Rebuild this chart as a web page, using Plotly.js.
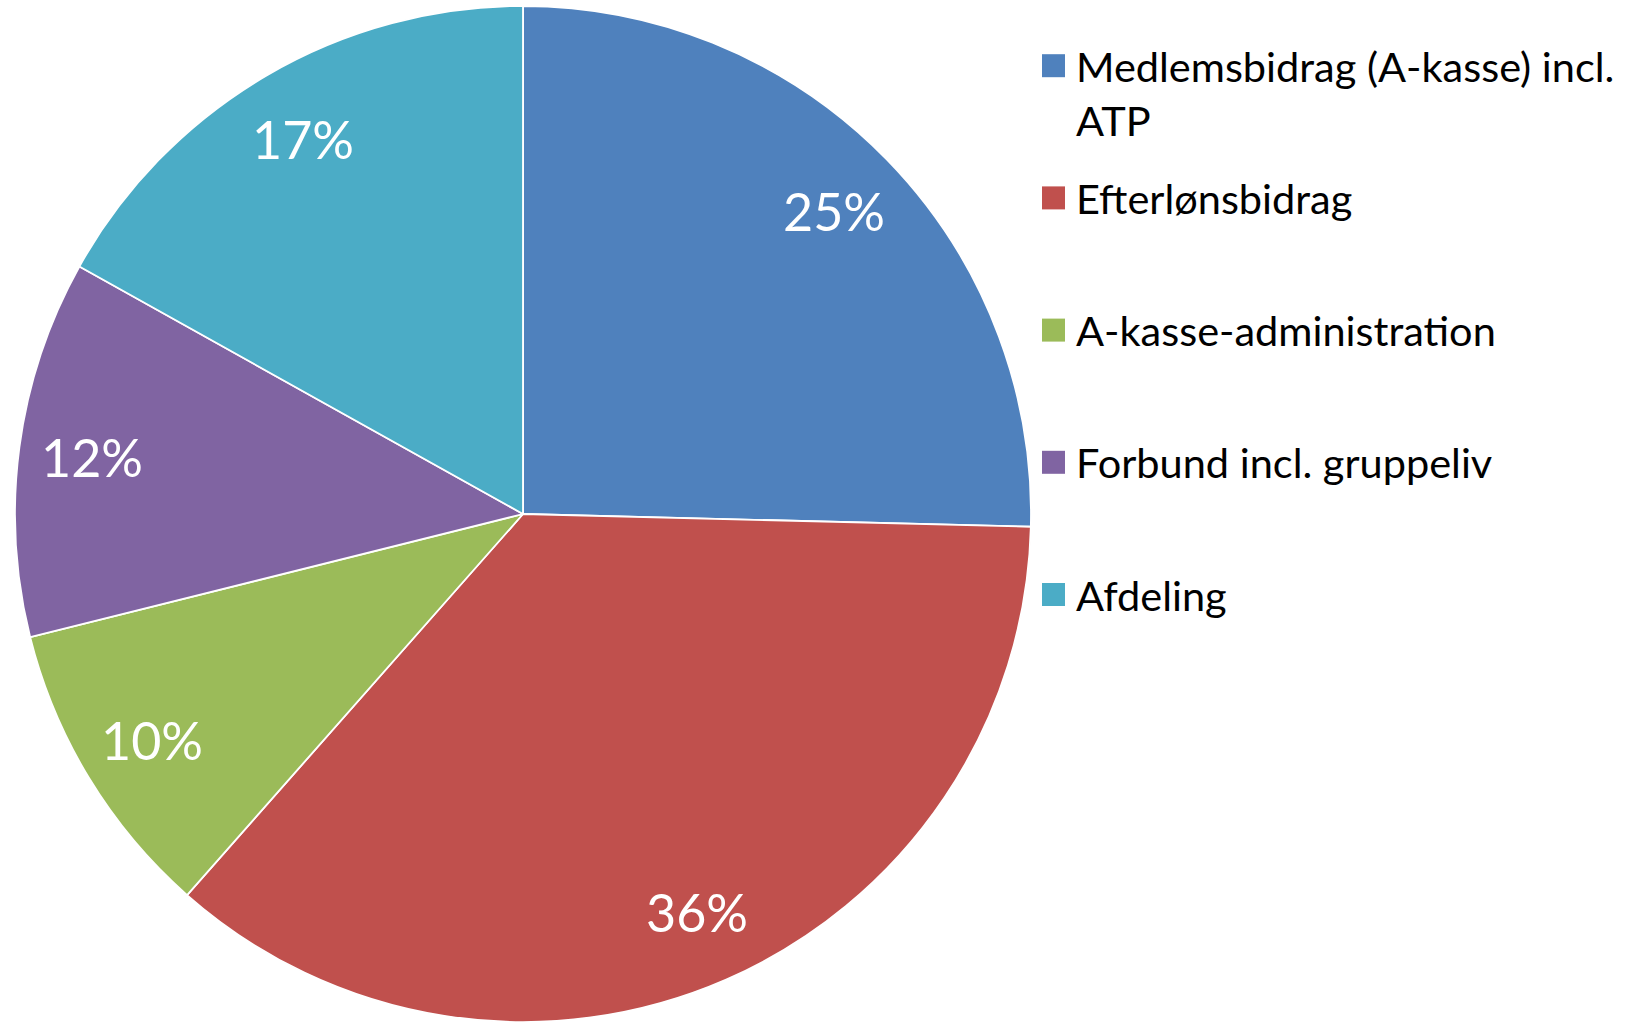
<!DOCTYPE html>
<html>
<head>
<meta charset="utf-8">
<script src="https://cdn.plot.ly/plotly-3.0.1.min.js"></script>
<style>html,body{margin:0;padding:0;background:#fff;}#chart{width:1639px;height:1027px;}</style>
</head>
<body>
<div id="chart"></div>
<script>
const categories = ["Medlemsbidrag (A-kasse) incl.<br>ATP", "Efterlønsbidrag", "A-kasse-administration", "Forbund incl. gruppeliv", "Afdeling"];
const shares = [25.4, 36.1, 9.6, 12.0, 16.9];
const colors = ["#4F81BD", "#C0504D", "#9BBB59", "#8064A2", "#4BACC6"];

const W = 1639, H = 1027;
const pieLeft = 15, pieRight = 1031, pieTop = 6, pieBottom = 1022;
const cx = (pieLeft + pieRight) / 2, cy = (pieTop + pieBottom) / 2, R = (pieRight - pieLeft) / 2;
const FONT = "Lato, 'Open Sans', sans-serif";

const total = shares.reduce((a, b) => a + b, 0);
const annotations = [];
let cum = 0;
shares.forEach((v) => {
  const mid = (cum + v / 2) / total * 2 * Math.PI;
  cum += v;
  const px = cx + 0.855 * R * Math.sin(mid);
  const py = cy - 0.855 * R * Math.cos(mid);
  annotations.push({
    x: px / W, y: 1 - py / H, xref: "paper", yref: "paper",
    text: Math.round(v / total * 100) + "%", showarrow: false,
    xanchor: "center", yanchor: "middle",
    font: {family: FONT, size: 52, color: "#ffffff"}
  });
});

// legend (built from the category list)
const legTop = 65.7, legStep = 132.2, legFont = 41.5, lineH = legFont * 1.3;
const shapes = [];
categories.forEach((c, i) => {
  const yc = legTop + i * legStep;
  shapes.push({type: "rect", xref: "paper", yref: "paper",
    x0: 1042 / W, x1: 1065 / W, y0: 1 - (yc - 11.5) / H, y1: 1 - (yc + 11.5) / H,
    fillcolor: colors[i], line: {width: 0}});
  const n = c.split("<br>").length;
  annotations.push({
    x: 1074 / W, y: 1 - (yc + (n - 1) * lineH / 2) / H, xref: "paper", yref: "paper",
    text: c, showarrow: false, xanchor: "left", yanchor: "middle", align: "left",
    font: {family: FONT, size: legFont, color: "#000000"}
  });
});

const trace = {
  type: "pie",
  labels: categories,
  values: shares,
  sort: false,
  direction: "clockwise",
  rotation: 0,
  marker: {colors: colors, line: {color: "#ffffff", width: 1.8}},
  textinfo: "none",
  hoverinfo: "label+percent",
  domain: {x: [pieLeft / W, pieRight / W], y: [1 - pieBottom / H, 1 - pieTop / H]},
  showlegend: false
};

Plotly.newPlot("chart", [trace], {
  width: W, height: H,
  margin: {l: 0, r: 0, t: 0, b: 0},
  paper_bgcolor: "#ffffff",
  showlegend: false,
  annotations: annotations,
  shapes: shapes
}, {displayModeBar: false, staticPlot: true});
</script>
</body>
</html>
